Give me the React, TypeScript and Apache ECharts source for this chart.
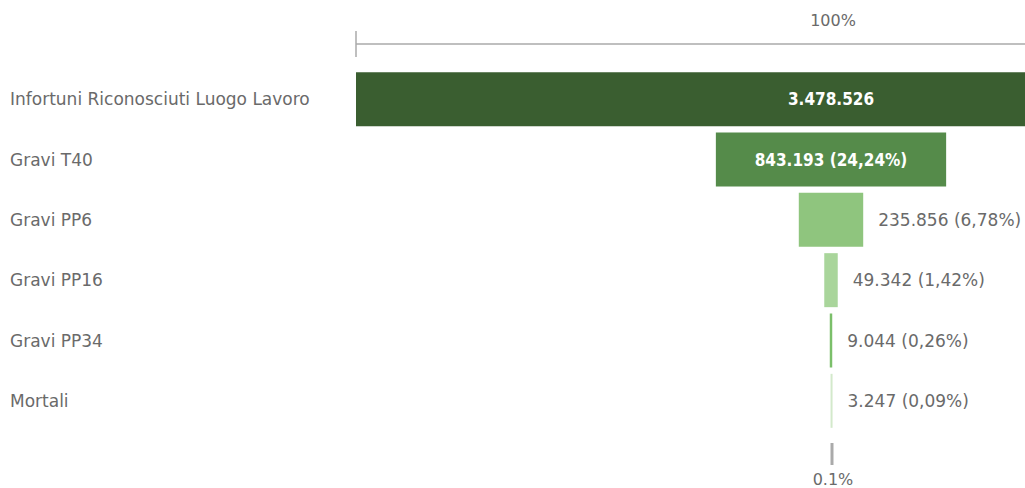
import React, { useEffect, useRef } from "react";
import * as echarts from "echarts";

const categories = [
  "Infortuni Riconosciuti Luogo Lavoro",
  "Gravi T40",
  "Gravi PP6",
  "Gravi PP16",
  "Gravi PP34",
  "Mortali",
];
const values = [3478526, 843193, 235856, 49342, 9044, 3247];
const barColors = ["#3a5e30", "#558b4a", "#8fc57e", "#a9d59b", "#7bbf6a", "#d3e9cb"];
const topLabel = "100%";
const bottomLabel = "0.1%";

const FONT = "DejaVu Sans";
const FS = 17;

const fmtNum = (n: number) => String(n).replace(/\B(?=(\d{3})+(?!\d))/g, ".");
const fmtPct = (v: number) => ((v / values[0]) * 100).toFixed(2).replace(".", ",") + "%";

export default function App() {
  const ref = useRef<HTMLDivElement>(null);
  useEffect(() => {
    document.body.style.margin = "0";
    const chart = echarts.init(ref.current!, null, { renderer: "svg" });
    const max = values[0];
    const option: any = {
      animation: false,
      grid: { left: 356, top: 69, width: 950, height: 362, containLabel: false },
      xAxis: { type: "value", min: 0, max, show: false },
      yAxis: {
        type: "category",
        inverse: true,
        data: categories,
        axisLine: { show: false },
        axisTick: { show: false },
        splitLine: { show: false },
        axisLabel: {
          align: "left",
          margin: 346,
          color: "#6a6a6a",
          fontSize: FS,
          fontFamily: FONT,
        },
      },
      series: [
        {
          type: "bar",
          stack: "f",
          silent: true,
          barWidth: 54,
          itemStyle: { color: "transparent" },
          data: values.map((v) => (max - v) / 2),
        },
        {
          type: "bar",
          stack: "f",
          barWidth: 54,
          barMinHeight: 2,
          data: values.map((v, i) => ({
            value: v,
            itemStyle: { color: barColors[i] },
            label: {
              show: true,
              position: i < 2 ? "inside" : "right",
              distance: 15,
              color: i < 2 ? "#fff" : "#6a6a6a",
              fontWeight: i < 2 ? "bold" : "normal",
              fontSize: FS,
              fontFamily: i < 2 ? "DejaVu Sans Condensed" : FONT,
              formatter: i === 0 ? fmtNum(v) : `${fmtNum(v)} (${fmtPct(v)})`,
            },
          })),
        },
      ],
    };
    chart.setOption(option);
    const x0 = chart.convertToPixel({ xAxisIndex: 0 }, 0) as number;
    const x1 = chart.convertToPixel({ xAxisIndex: 0 }, max) as number;
    const xc = chart.convertToPixel({ xAxisIndex: 0 }, max / 2) as number;
    chart.setOption({
      graphic: [
        { type: "line", shape: { x1: x0, y1: 44, x2: x1, y2: 44 }, style: { stroke: "#aaa", lineWidth: 1.5 } },
        { type: "line", shape: { x1: x0, y1: 31, x2: x0, y2: 57 }, style: { stroke: "#aaa", lineWidth: 1.5 } },
        {
          type: "text",
          x: xc + 2,
          y: 20,
          style: { text: topLabel, fill: "#6a6a6a", fontSize: 16, fontFamily: FONT, align: "center", verticalAlign: "middle" },
        },
        { type: "line", shape: { x1: xc + 1, y1: 443, x2: xc + 1, y2: 465 }, style: { stroke: "#aaa", lineWidth: 3 } },
        {
          type: "text",
          x: xc + 2,
          y: 479,
          style: { text: bottomLabel, fill: "#6a6a6a", fontSize: 16, fontFamily: FONT, align: "center", verticalAlign: "middle" },
        },
      ],
    });
    return () => chart.dispose();
  }, []);
  return (
    <div style={{ width: 1025, height: 488, overflow: "hidden" }}>
      <div ref={ref} style={{ width: 1330, height: 488 }} />
    </div>
  );
}
